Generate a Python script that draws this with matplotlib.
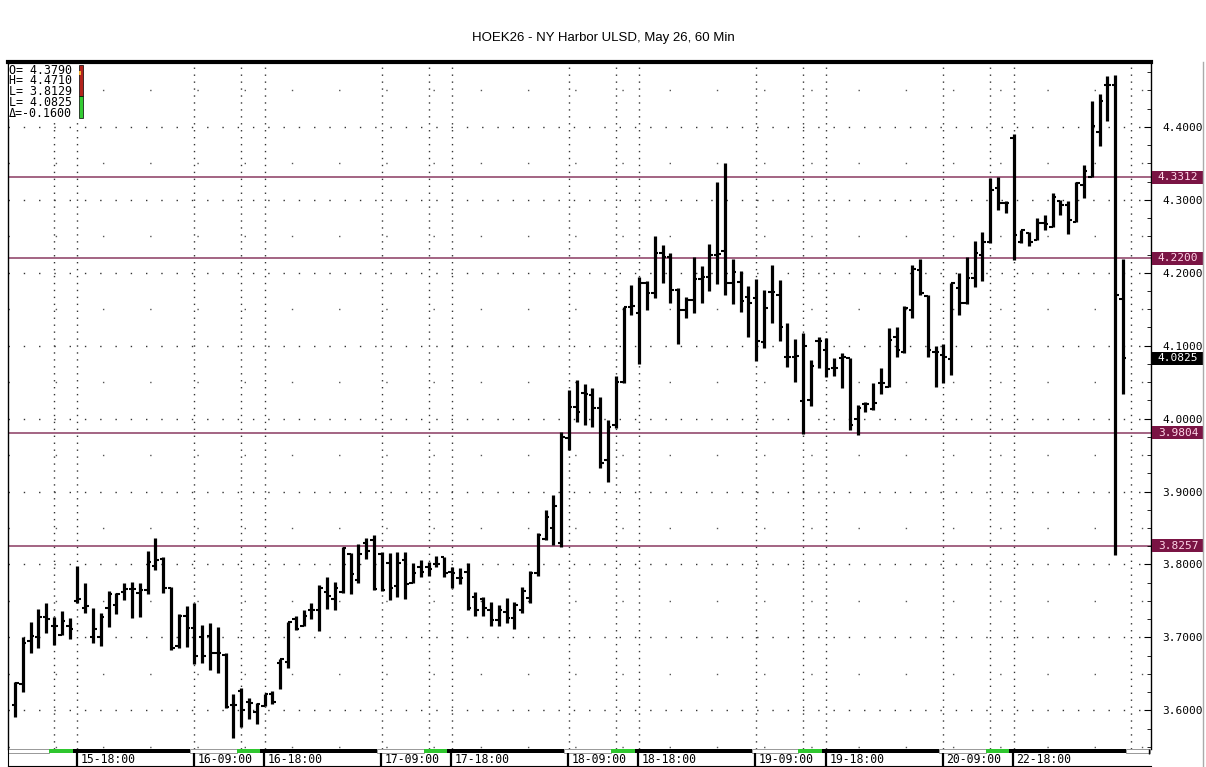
import matplotlib
matplotlib.use("Agg")
import matplotlib.pyplot as plt
from matplotlib.patches import Rectangle
from matplotlib.lines import Line2D
import matplotlib.transforms as mtransforms
import numpy as np

TITLE = "HOEK26 - NY Harbor ULSD, May 26, 60 Min"

opens = [3.607, 3.636, 3.695, 3.700, 3.728, 3.716, 3.704, 3.715, 3.750, 3.740,
         3.700, 3.700, 3.741, 3.745, 3.762, 3.767, 3.761, 3.765, 3.798, 3.808,
         3.768, 3.688, 3.730, 3.713, 3.700, 3.702, 3.678, 3.676, 3.608, 3.627,
         3.612, 3.598, 3.606, 3.622, 3.665, 3.666, 3.725, 3.716, 3.737, 3.737,
         3.762, 3.753, 3.762, 3.815, 3.779, 3.830, 3.833, 3.815, 3.802, 3.770,
         3.806, 3.775, 3.796, 3.796, 3.800, 3.810, 3.790, 3.782, 3.790, 3.755,
         3.752, 3.737, 3.724, 3.735, 3.726, 3.737, 3.754, 3.788, 3.835, 3.850,
         3.830, 3.973, 4.016, 4.035, 4.032, 4.014, 3.943, 3.991, 4.050, 4.153,
         4.145, 4.186, 4.172, 4.227, 4.222, 4.176, 4.149, 4.163, 4.191, 4.194,
         4.224, 4.230, 4.186, 4.187, 4.167, 4.165, 4.105, 4.174, 4.170, 4.085,
         4.084, 4.024, 4.026, 4.106, 4.094, 4.069, 4.083, 4.083, 4.000, 4.020,
         4.013, 4.049, 4.044, 4.112, 4.091, 4.149, 4.204, 4.168, 4.091, 4.087,
         4.082, 4.179, 4.159, 4.193, 4.224, 4.242, 4.316, 4.296, 4.385, 4.242,
         4.254, 4.245, 4.268, 4.263, 4.299, 4.293, 4.270, 4.320, 4.332, 4.393,
         4.458, 4.458, 4.164]
highs = [3.639, 3.700, 3.721, 3.739, 3.747, 3.728, 3.736, 3.726, 3.798, 3.775,
         3.740, 3.733, 3.764, 3.761, 3.775, 3.776, 3.775, 3.818, 3.836, 3.810,
         3.769, 3.732, 3.743, 3.747, 3.717, 3.720, 3.714, 3.678, 3.622, 3.630,
         3.617, 3.610, 3.622, 3.626, 3.670, 3.721, 3.730, 3.737, 3.747, 3.772,
         3.783, 3.776, 3.824, 3.816, 3.828, 3.836, 3.840, 3.817, 3.816, 3.817,
         3.817, 3.802, 3.806, 3.803, 3.812, 3.810, 3.796, 3.795, 3.802, 3.762,
         3.755, 3.748, 3.744, 3.754, 3.748, 3.769, 3.791, 3.843, 3.875, 3.895,
         3.982, 4.039, 4.053, 4.047, 4.042, 4.030, 3.998, 4.058, 4.153, 4.183,
         4.194, 4.189, 4.250, 4.238, 4.227, 4.179, 4.167, 4.222, 4.209, 4.240,
         4.325, 4.351, 4.219, 4.202, 4.182, 4.191, 4.176, 4.211, 4.190, 4.131,
         4.109, 4.117, 4.080, 4.112, 4.111, 4.083, 4.090, 4.083, 4.019, 4.023,
         4.049, 4.069, 4.124, 4.126, 4.155, 4.211, 4.219, 4.170, 4.100, 4.102,
         4.186, 4.200, 4.222, 4.244, 4.256, 4.330, 4.331, 4.299, 4.390, 4.259,
         4.256, 4.275, 4.279, 4.309, 4.300, 4.299, 4.325, 4.348, 4.436, 4.445,
         4.470, 4.471, 4.219]
lows = [3.591, 3.625, 3.678, 3.685, 3.706, 3.689, 3.704, 3.698, 3.747, 3.733,
        3.693, 3.688, 3.714, 3.732, 3.751, 3.726, 3.728, 3.759, 3.792, 3.761,
        3.683, 3.685, 3.687, 3.663, 3.665, 3.655, 3.651, 3.603, 3.562, 3.577,
        3.588, 3.581, 3.606, 3.609, 3.629, 3.658, 3.710, 3.716, 3.725, 3.709,
        3.739, 3.737, 3.761, 3.759, 3.774, 3.807, 3.765, 3.764, 3.751, 3.755,
        3.753, 3.774, 3.783, 3.784, 3.796, 3.783, 3.768, 3.773, 3.737, 3.730,
        3.729, 3.716, 3.716, 3.720, 3.711, 3.733, 3.747, 3.784, 3.833, 3.827,
        3.824, 3.957, 3.995, 3.991, 3.988, 3.932, 3.913, 3.987, 4.049, 4.142,
        4.075, 4.149, 4.165, 4.186, 4.159, 4.102, 4.138, 4.145, 4.159, 4.175,
        4.185, 4.170, 4.157, 4.146, 4.112, 4.079, 4.097, 4.131, 4.106, 4.071,
        4.050, 3.979, 4.017, 4.069, 4.057, 4.058, 4.042, 3.984, 3.977, 4.009,
        4.012, 4.034, 4.043, 4.085, 4.090, 4.138, 4.170, 4.084, 4.043, 4.049,
        4.060, 4.142, 4.157, 4.181, 4.189, 4.241, 4.286, 4.282, 4.218, 4.241,
        4.237, 4.245, 4.259, 4.263, 4.279, 4.253, 4.270, 4.303, 4.331, 4.374,
        4.408, 3.813, 4.034]
closes = [3.638, 3.692, 3.702, 3.728, 3.725, 3.716, 3.722, 3.712, 3.753, 3.743,
          3.712, 3.728, 3.759, 3.759, 3.767, 3.767, 3.765, 3.803, 3.806, 3.768,
          3.686, 3.730, 3.713, 3.675, 3.675, 3.678, 3.678, 3.605, 3.607, 3.600,
          3.610, 3.609, 3.622, 3.611, 3.670, 3.721, 3.712, 3.730, 3.737, 3.768,
          3.757, 3.768, 3.822, 3.787, 3.815, 3.818, 3.767, 3.765, 3.768, 3.802,
          3.773, 3.788, 3.790, 3.794, 3.800, 3.788, 3.788, 3.781, 3.740, 3.738,
          3.740, 3.724, 3.737, 3.726, 3.745, 3.764, 3.788, 3.840, 3.865, 3.880,
          3.975, 4.016, 4.009, 4.034, 4.014, 3.939, 3.988, 4.050, 4.153, 4.154,
          4.186, 4.172, 4.227, 4.222, 4.176, 4.149, 4.163, 4.191, 4.194, 4.224,
          4.226, 4.186, 4.201, 4.161, 4.159, 4.106, 4.152, 4.174, 4.126, 4.085,
          4.086, 4.100, 4.072, 4.106, 4.068, 4.070, 4.084, 3.991, 4.015, 4.020,
          4.022, 4.049, 4.108, 4.094, 4.152, 4.205, 4.172, 4.094, 4.091, 4.084,
          4.186, 4.159, 4.193, 4.227, 4.242, 4.314, 4.296, 4.296, 4.252, 4.258,
          4.242, 4.268, 4.267, 4.304, 4.293, 4.272, 4.323, 4.340, 4.401, 4.436,
          4.458, 4.170, 4.0825]

# session labels on the time axis (bar index, text)
label_idx = [8, 23, 32, 47, 56, 71, 80, 95, 104, 119, 128]
label_txt = ["15-18:00", "16-09:00", "16-18:00", "17-09:00", "17-18:00", "18-09:00",
             "18-18:00", "19-09:00", "19-18:00", "20-09:00", "22-18:00"]
vgrid_idx = [5, 8, 23, 29, 32, 47, 53, 56, 71, 77, 80, 95, 101, 104, 119, 125, 128, 143]

# session strip segments (start, end, kind)
seg_start = [-1.9, 4.4, 7.4, 22.4, 28.4, 31.4, 46.4, 52.4, 55.4, 70.4, 76.4, 79.4,
             94.4, 100.4, 103.4, 118.4, 124.4, 127.4, 142.4]
seg_end = seg_start[1:] + [145.5]
seg_kind = ["w", "g", "k"] * 6 + ["w"]

levels = [4.3312, 4.2200, 3.9804, 3.8257]
last_close = 4.0825

legend_lines = ["O= 4.3790", "H= 4.4710", "L= 3.8129", "L= 4.0825", "\u0394=-0.1600"]

W, H = 1206, 767
fig = plt.figure(figsize=(W / 100, H / 100), dpi=100)
fig.patch.set_facecolor("white")

L, R, T, B = 8, 1151, 62, 749
ax = fig.add_axes([L / W, 1 - B / H, (R - L) / W, (B - T) / H])
ax.set_xlim(-0.9, 145.6)
ax.set_ylim(3.547, 4.489)

# grid
for y in np.arange(3.6, 4.45, 0.1):
    ax.axhline(y, color="#333333", lw=1.0, ls=(0, (1, 10)), zorder=0)
for y in np.arange(3.55, 4.5, 0.1):
    ax.axhline(y, color="#555555", lw=1.0, ls=(0, (1, 33)), zorder=0)
for xi in vgrid_idx:
    ax.axvline(xi, color="#333333", lw=1.0, ls=(0, (1, 4)), zorder=0)

# level lines
maroon = "#7a1444"
for lv in levels:
    ax.axhline(lv, color="#8a3a62", lw=1.1, zorder=1)

# OHLC bars
idx = np.arange(len(closes))
ax.vlines(idx, lows, highs, color="black", lw=2.3, zorder=3)
ax.hlines(opens, idx - 0.45, idx, color="black", lw=1.5, zorder=3)
ax.hlines(closes, idx, idx + 0.45, color="black", lw=1.5, zorder=3)

# spines / axis
ax.spines["top"].set_linewidth(3)
ax.spines["bottom"].set_visible(False)
ax.spines["left"].set_linewidth(1)
ax.spines["right"].set_linewidth(1)
ax.set_xticks([])
ax.yaxis.tick_right()
ax.set_yticks(np.arange(3.6, 4.45, 0.1))
ax.set_yticklabels([f"{v:.4f}" for v in np.arange(3.6, 4.45, 0.1)],
                   fontfamily="DejaVu Sans Mono", fontsize=8)
ax.set_yticks(np.arange(3.55, 4.49, 0.025), minor=True)
ax.tick_params(axis="y", which="major", direction="in", length=5, pad=8, colors="black")
ax.tick_params(axis="y", which="minor", direction="in", length=3, right=True)

# right side price boxes
trans = mtransforms.blended_transform_factory(ax.transAxes, ax.transData)
bw = 52 / (R - L)
bh = 13 / 687 * (4.489 - 3.547)
for lv in levels:
    ax.add_patch(Rectangle((1.001, lv - bh / 2), bw, bh, transform=trans,
                           fc=maroon, ec="none", clip_on=False, zorder=5))
    ax.text(1.001 + bw / 2, lv, f"{lv:.4f}", transform=trans, ha="center", va="center",
            color="#ffd6e8", fontsize=8, fontfamily="DejaVu Sans Mono", zorder=6,
            clip_on=False)
ax.add_patch(Rectangle((1.001, last_close - bh / 2), bw, bh, transform=trans,
                       fc="black", ec="none", clip_on=False, zorder=5))
ax.text(1.001 + bw / 2, last_close, f"{last_close:.4f}", transform=trans, ha="center",
        va="center", color="white", fontsize=8, fontfamily="DejaVu Sans Mono",
        zorder=6, clip_on=False)

# legend block top-left
fig.patches.append(Rectangle((L / W + 0.001, 1 - 119 / H), 76 / W, 54 / H,
                             transform=fig.transFigure, fc="white", ec="none", zorder=4))
for k, s in enumerate(legend_lines):
    fig.text(9 / W, 1 - (70 + k * 10.8) / H, s, fontsize=8.4,
             fontfamily="DejaVu Sans Mono", va="center", ha="left", zorder=5)
fig.patches.append(Rectangle((79 / W, 1 - 96 / H), 4 / W, 31 / H, transform=fig.transFigure,
                             fc="#b3231c", ec="black", lw=0.5, zorder=5))
fig.patches.append(Rectangle((79 / W, 1 - 118 / H), 4 / W, 22 / H, transform=fig.transFigure,
                             fc="#33cc33", ec="black", lw=0.5, zorder=5))
fig.patches.append(Rectangle((79 / W, 1 - 75 / H), 2 / W, 4 / H, transform=fig.transFigure,
                             fc="#f0b030", ec="none", zorder=6))

# time strip
ax2 = fig.add_axes([L / W, 1 - 766 / H, (R - L) / W, (766 - B) / H])
ax2.set_xlim(-0.9, 145.6)
ax2.set_ylim(0, 1)
ax2.set_xticks([])
ax2.set_yticks([])
ax2.spines["top"].set_visible(False)
ax2.spines["right"].set_visible(False)
colors = {"w": "white", "g": "#2fc62f", "k": "black"}
for s0, s1, kd in zip(seg_start, seg_end, seg_kind):
    ax2.add_patch(Rectangle((s0, 0.76), s1 - s0, 0.24, fc=colors[kd],
                            ec="#888888" if kd == "w" else "none", lw=0.6))
for xi, t in zip(label_idx, label_txt):
    ax2.vlines(xi - 0.1, 0, 0.76, color="black", lw=1.6)
    ax2.text(xi + 0.35, 0.36, t, fontsize=8.3, fontfamily="DejaVu Sans Mono",
             va="center", ha="left")
ax2.vlines(145.4, 0.7, 1.0, color="black", lw=1)

fig.add_artist(Line2D([1203 / W, 1203 / W], [0, 1 - 62 / H], color="#aaaaaa", lw=1))

fig.text(0.5, 1 - 38 / H, TITLE, ha="center", va="center", fontsize=9.5,
         fontfamily="Liberation Sans")

fig.savefig("out.png", dpi=100)
